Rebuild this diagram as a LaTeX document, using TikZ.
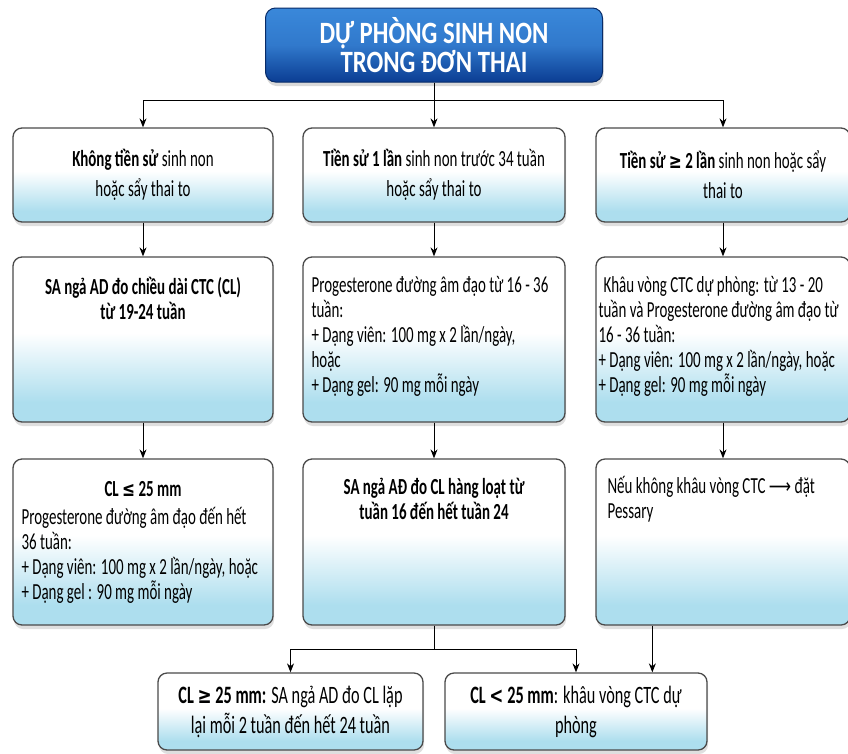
\documentclass[tikz,border=0pt]{standalone}
\usepackage{fontspec}
\setmainfont{Carlito}[FakeStretch=0.65]
\newfontfamily\titlefont{Carlito}[FakeStretch=0.8]
\newfontfamily\symfont{DejaVu Sans}[FakeStretch=0.75,Scale=0.9]
\newcommand{\geqs}{{\symfont ≥}}
\newcommand{\leqs}{{\symfont ≤}}
\newcommand{\lts}{{\symfont <}}
\newcommand{\arrs}{{\symfont ⟶}}
\usetikzlibrary{arrows.meta,shadows,calc}
\definecolor{boxblue}{HTML}{ADDEEE}
\definecolor{ttop}{HTML}{3A88DA}
\definecolor{tbot}{HTML}{0B3D93}
\definecolor{edge}{HTML}{4A4A4A}
\pgfdeclareverticalshading{boxshade}{100bp}{color(0bp)=(boxblue); color(25bp)=(boxblue); color(31bp)=(boxblue); color(52bp)=(white); color(75bp)=(white); color(100bp)=(white)}
\pgfdeclareverticalshading{titleshade}{100bp}{color(0bp)=(tbot); color(25bp)=(tbot); color(50bp)=(ttop!80!tbot); color(75bp)=(ttop); color(100bp)=(ttop)}
\tikzset{
  box/.style={draw=edge, line width=1.3pt, rounded corners=9pt, shading=boxshade,
    drop shadow={opacity=0.25, shadow xshift=1pt, shadow yshift=-4pt}},
  titlebox/.style={draw=tbot!70!black, line width=1pt, rounded corners=10pt, shading=titleshade,
    drop shadow={opacity=0.3, shadow xshift=1pt, shadow yshift=-4pt},
    text=white, align=center, font=\titlefont\bfseries\fontsize{31}{27}\selectfont},
  txt/.style={font=\fontsize{23}{25}\selectfont, inner sep=0pt, align=left},
  ctxt/.style={font=\fontsize{23}{25}\selectfont, inner sep=0pt, align=center},
  htxt/.style={font=\fontsize{23}{30}\selectfont, inner sep=0pt, align=center},
  arr/.style={-{Stealth[length=9pt,width=7pt]}, line width=0.9pt, draw=black}
}
\begin{document}
\begin{tikzpicture}[x=1pt,y=-1pt]
\useasboundingbox (0,0) rectangle (848,753);
% title
\node[titlebox, minimum width=337pt, minimum height=74pt] (title) at (434,45) {DỰ PHÒNG SINH NON\\TRONG ĐƠN THAI};
% boxes
\node[box, minimum width=260pt, minimum height=94pt] (b11) at (143,175) {};
\node[box, minimum width=262pt, minimum height=94pt] (b12) at (434,175) {};
\node[box, minimum width=254pt, minimum height=94pt] (b13) at (723,175) {};
\node[box, minimum width=260pt, minimum height=165pt] (b21) at (143,339.5) {};
\node[box, minimum width=262pt, minimum height=165pt] (b22) at (434,339.5) {};
\node[box, minimum width=254pt, minimum height=165pt] (b23) at (723,339.5) {};
\node[box, minimum width=260pt, minimum height=166pt] (b31) at (143,542) {};
\node[box, minimum width=262pt, minimum height=166pt] (b32) at (434,542) {};
\node[box, minimum width=254pt, minimum height=166pt] (b33) at (723,542) {};
\node[box, minimum width=265pt, minimum height=77pt] (b41) at (290.5,711.5) {};
\node[box, minimum width=262pt, minimum height=77pt] (b42) at (576,711.5) {};
% texts
\node[htxt] (t11) at (b11) {\textbf{Không tiền sử} sinh non\\hoặc sẩy thai to};
\node[htxt] (t12) at (b12) {\textbf{Tiền sử 1 lần} sinh non trước 34 tuần\\hoặc sẩy thai to};
\node[htxt] (t13) at (b13) {\textbf{Tiền sử \geqs{} 2 lần} sinh non hoặc sẩy\\thai to};
\node[ctxt, anchor=north, font=\bfseries\fontsize{23}{25}\selectfont] (t21) at ($(b21.north)+(0,21)$) {SA ngả AD đo chiều dài CTC (CL)\\từ 19-24 tuần};
\node[txt, anchor=north west] (t22) at ($(b22.north west)+(9,20)$) {Progesterone đường âm đạo từ 16 - 36\\tuần:\\+ Dạng viên: 100 mg x 2 lần/ngày,\\hoặc\\+ Dạng gel: 90 mg mỗi ngày};
\node[txt, anchor=north west] (t23) at ($(b23.north west)+(3,20)$) {\hspace{5pt}Khâu vòng CTC dự phòng: từ 13 - 20\\tuần và Progesterone đường âm đạo từ\\16 - 36 tuần:\\+ Dạng viên: 100 mg x 2 lần/ngày, hoặc\\+ Dạng gel: 90 mg mỗi ngày};
\node[ctxt, anchor=north, font=\bfseries\fontsize{23}{25}\selectfont] (t31a) at ($(b31.north)+(0,23)$) {CL \leqs{} 25 mm};
\node[txt, anchor=north west] (t31b) at ($(b31.north west)+(9,49)$) {Progesterone đường âm đạo đến hết\\36 tuần:\\+ Dạng viên: 100 mg x 2 lần/ngày, hoặc\\+ Dạng gel : 90 mg mỗi ngày};
\node[ctxt, anchor=north, font=\bfseries\fontsize{23}{25}\selectfont] (t32) at ($(b32.north)+(0,20)$) {SA ngả AĐ đo CL hàng loạt từ\\tuần 16 đến hết tuần 24};
\node[txt, anchor=north west] (t33) at ($(b33.north west)+(12,18)$) {Nếu không khâu vòng CTC \arrs{} đặt\\Pessary};
\node[htxt, font=\fontsize{25}{30}\selectfont] (t41) at (b41) {\textbf{CL \geqs{} 25 mm:} SA ngả AD đo CL lặp\\lại mỗi 2 tuần đến hết 24 tuần};
\node[htxt, font=\fontsize{25}{30}\selectfont] (t42) at (b42) {\textbf{CL \lts{} 25 mm}: khâu vòng CTC dự\\phòng};
% connectors
\draw[arr] (title.south) -- ++(0,18) -| (b11.north);
\draw[arr] (title.south) -- (b12.north);
\draw[arr] (title.south) -- ++(0,18) -| (b13.north);
\draw[arr] (b11.south) -- (b21.north);
\draw[arr] (b12.south) -- (b22.north);
\draw[arr] (b13.south) -- (b23.north);
\draw[arr] (b21.south) -- (b31.north);
\draw[arr] (b22.south) -- (b32.north);
\draw[arr] (b23.south) -- (b33.north);
\draw[arr] (b32.south) -- ++(0,24) -| (b41.north);
\draw[arr] (b32.south) -- ++(0,24) -| (b42.north);
\draw[arr] ([xshift=57pt]b33.south west) -- ([xshift=57pt]b33.south west |- b42.north);
\end{tikzpicture}
\end{document}
